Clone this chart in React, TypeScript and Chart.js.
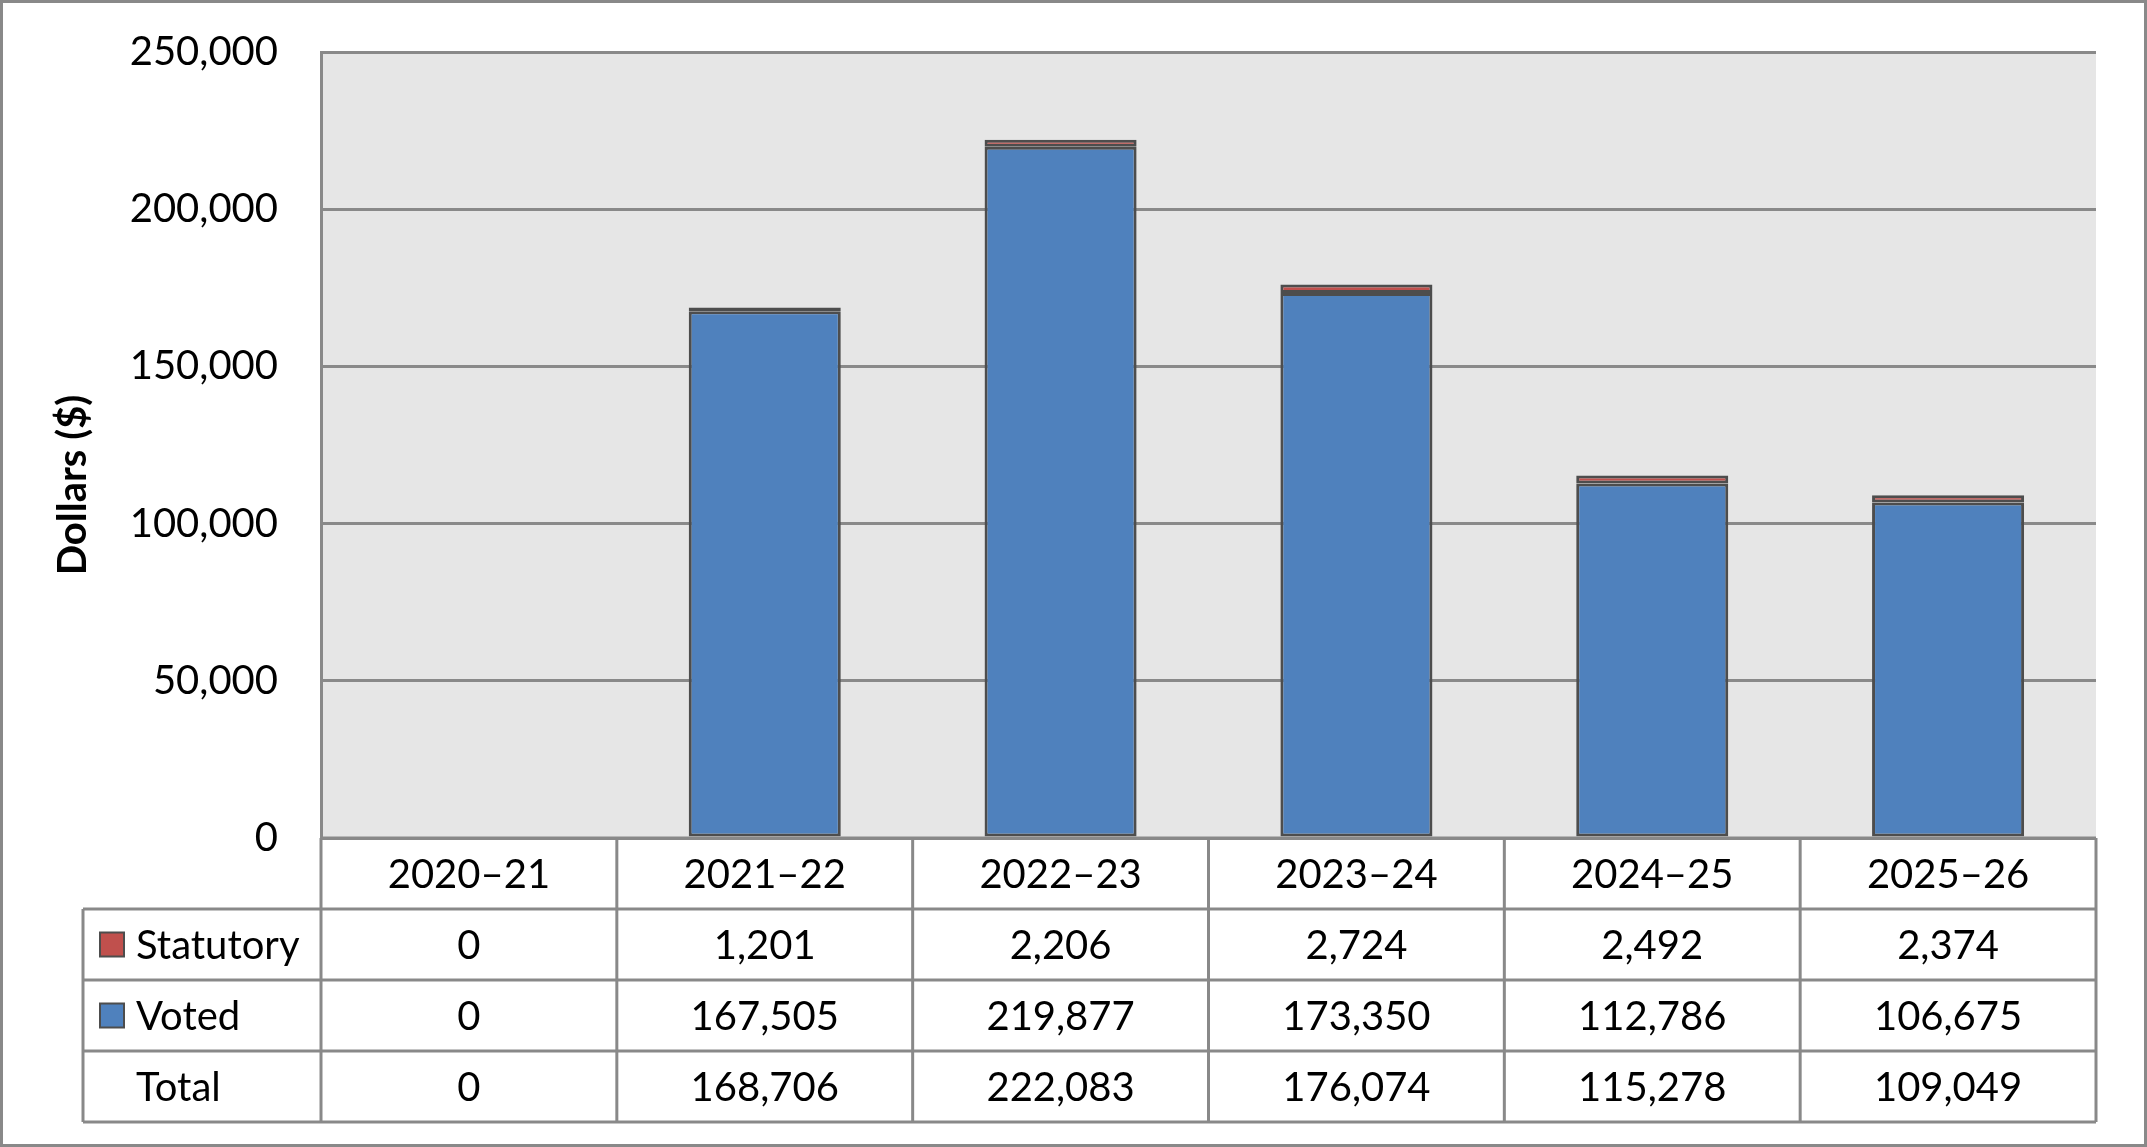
import React, { useEffect, useRef } from 'react';
import { Chart, ChartConfiguration, Plugin, registerables } from 'chart.js';

Chart.register(...registerables);

// chart data
const categories = ['2020–21', '2021–22', '2022–23', '2023–24', '2024–25', '2025–26'];
const voted = [0, 167505, 219877, 173350, 112786, 106675];
const statutory = [0, 1201, 2206, 2724, 2492, 2374];
const totals = [0, 168706, 222083, 176074, 115278, 109049];
const yTicks = [0, 50000, 100000, 150000, 200000, 250000];

const FONT = 'Lato, "Open Sans", sans-serif';
const BLUE = '#4f81bd';
const RED = '#c0504d';
const BAR_EDGE = '#4d4d4d';
const LINE = '#898989';

const fmt = (v: number) => v.toLocaleString('en-US');

// background, outer frame, axis title and the data table under the plot
const tablePlugin: Plugin = {
  id: 'tablePlugin',
  beforeDraw(chart) {
    const { ctx, chartArea, width, height } = chart;
    ctx.save();
    ctx.fillStyle = '#ffffff';
    ctx.fillRect(0, 0, width, height);
    ctx.fillStyle = '#e6e6e6';
    ctx.fillRect(chartArea.left, chartArea.top, chartArea.right - chartArea.left, chartArea.bottom - chartArea.top);
    ctx.restore();
  },
  afterDraw(chart) {
    const { ctx, chartArea, width, height } = chart;
    const x = chart.scales.x;
    const n = categories.length;
    const colW = (chartArea.right - chartArea.left) / n;
    const rowH = 71;
    const rows = [0, 1, 2, 3, 4].map((i) => chartArea.bottom + i * rowH);
    const labelLeft = 83;

    ctx.save();
    ctx.strokeStyle = LINE;
    ctx.lineWidth = 3;

    // horizontal rules
    ctx.beginPath();
    ctx.moveTo(chartArea.left, rows[0]);
    ctx.lineTo(chartArea.right, rows[0]);
    for (let i = 1; i < rows.length; i++) {
      ctx.moveTo(labelLeft, rows[i]);
      ctx.lineTo(chartArea.right, rows[i]);
    }
    // vertical rules
    for (let i = 0; i <= n; i++) {
      const cx = chartArea.left + i * colW;
      ctx.moveTo(cx, rows[0]);
      ctx.lineTo(cx, rows[4]);
    }
    ctx.moveTo(labelLeft, rows[1]);
    ctx.lineTo(labelLeft, rows[4]);
    ctx.stroke();

    // cell text
    ctx.fillStyle = '#000000';
    ctx.font = `40px ${FONT}`;
    ctx.textAlign = 'center';
    ctx.textBaseline = 'middle';
    const rowData = [categories, statutory.map(fmt), voted.map(fmt), totals.map(fmt)];
    rowData.forEach((vals, r) => {
      const cy = (rows[r] + rows[r + 1]) / 2 + 2;
      vals.forEach((v, i) => {
        ctx.fillText(String(v), x.getPixelForValue(i), cy);
      });
    });

    // row labels with legend keys
    ctx.textAlign = 'left';
    const labels = [
      { text: 'Statutory', color: RED },
      { text: 'Voted', color: BLUE },
      { text: 'Total', color: null as string | null },
    ];
    labels.forEach((l, i) => {
      const cy = (rows[i + 1] + rows[i + 2]) / 2;
      if (l.color) {
        ctx.fillStyle = l.color;
        ctx.fillRect(100, cy - 12, 24, 24);
        ctx.strokeStyle = BAR_EDGE;
        ctx.lineWidth = 2;
        ctx.strokeRect(100, cy - 12, 24, 24);
      }
      ctx.fillStyle = '#000000';
      ctx.fillText(l.text, 136, cy + 2);
    });

    // y axis title
    ctx.save();
    ctx.translate(73, 485);
    ctx.rotate(-Math.PI / 2);
    ctx.textAlign = 'center';
    ctx.font = `bold 40px ${FONT}`;
    ctx.fillText('Dollars ($)', 0, 0);
    ctx.restore();

    // outer frame
    ctx.strokeStyle = LINE;
    ctx.lineWidth = 3;
    ctx.strokeRect(1.5, 1.5, width - 3, height - 3);
    ctx.restore();
  },
};

const App: React.FC = () => {
  const canvasRef = useRef<HTMLCanvasElement | null>(null);
  const chartRef = useRef<Chart | null>(null);

  useEffect(() => {
    document.body.style.margin = '0';
    if (!canvasRef.current) return;
    if (chartRef.current) chartRef.current.destroy();

    const config: ChartConfiguration<'bar'> = {
      type: 'bar',
      data: {
        labels: categories,
        datasets: [
          {
            label: 'Voted',
            data: voted,
            backgroundColor: BLUE,
            borderColor: BAR_EDGE,
            borderWidth: 3,
            borderSkipped: false,
            categoryPercentage: 1,
            barPercentage: 0.514,
          },
          {
            label: 'Statutory',
            data: statutory,
            backgroundColor: RED,
            borderColor: BAR_EDGE,
            borderWidth: 3,
            borderSkipped: false,
            categoryPercentage: 1,
            barPercentage: 0.514,
          },
        ],
      },
      options: {
        responsive: true,
        maintainAspectRatio: false,
        animation: false,
        devicePixelRatio: 1,
        layout: { padding: { top: 52, right: 51, left: 0, bottom: 0 } },
        plugins: {
          legend: { display: false },
          tooltip: { enabled: false },
        },
        scales: {
          x: {
            stacked: true,
            grid: { display: false },
            border: { display: false },
            ticks: { display: false },
            afterFit: (s) => {
              s.height = 309;
            },
          },
          y: {
            stacked: true,
            min: 0,
            max: 250000,
            afterBuildTicks: (s) => {
              s.ticks = yTicks.map((v) => ({ value: v }));
            },
            afterFit: (s) => {
              s.width = 321;
              s.paddingTop = 0;
              s.paddingBottom = 0;
            },
            grid: { color: LINE, lineWidth: 3, drawTicks: false },
            border: { display: true, color: LINE, width: 3 },
            ticks: {
              color: '#000000',
              padding: 43,
              font: { family: FONT, size: 40 },
              callback: (v) => fmt(Number(v)),
            },
          },
        },
      },
      plugins: [tablePlugin],
    };

    chartRef.current = new Chart(canvasRef.current, config);
    return () => {
      if (chartRef.current) {
        chartRef.current.destroy();
        chartRef.current = null;
      }
    };
  }, []);

  return (
    <div style={{ width: 2147, height: 1147, position: 'relative' }}>
      <canvas ref={canvasRef} />
    </div>
  );
};

export default App;
